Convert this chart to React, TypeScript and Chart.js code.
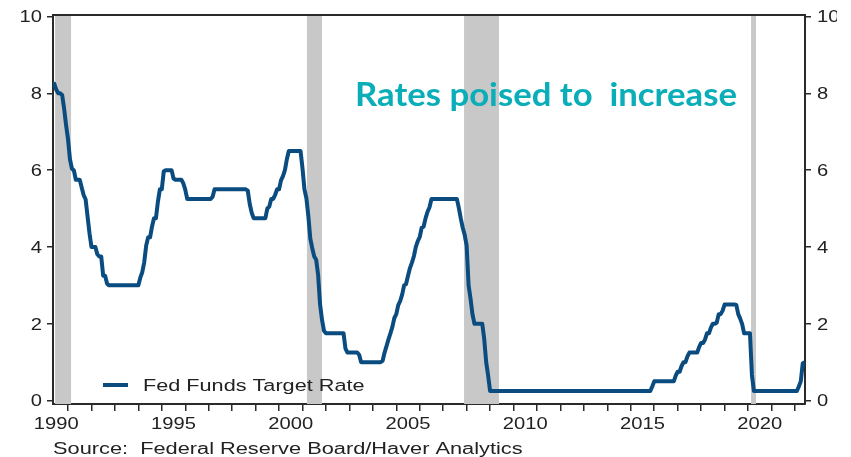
import { useEffect, useRef } from "react";
import { Chart, registerables } from "chart.js";

Chart.register(...registerables);

// Fed funds target rate: dates (decimal years) at which the target changed, and the new level
const changeDates = [
  1990.36, 1990.53, 1990.82, 1990.87, 1990.93, 1990.96,
  1991.02, 1991.09, 1991.18, 1991.33, 1991.6, 1991.7, 1991.83, 1991.85, 1991.93, 1991.97,
  1992.27, 1992.5, 1992.68,
  1994.1, 1994.22, 1994.3, 1994.37, 1994.62, 1994.87,
  1995.09, 1995.51, 1995.97,
  1996.08,
  1997.23,
  1998.74, 1998.79, 1998.88,
  1999.5, 1999.65, 1999.88,
  2000.09, 2000.22, 2000.37,
  2001.01, 2001.08, 2001.21, 2001.3, 2001.37, 2001.49, 2001.64, 2001.71, 2001.75, 2001.85, 2001.94,
  2002.85,
  2003.48,
  2004.49, 2004.61, 2004.72, 2004.86, 2004.95,
  2005.09, 2005.22, 2005.33, 2005.49, 2005.6, 2005.72, 2005.83, 2005.95,
  2006.08, 2006.24, 2006.36, 2006.49,
  2007.71, 2007.83, 2007.94,
  2008.06, 2008.08, 2008.21, 2008.33, 2008.77, 2008.83, 2008.96,
  2015.96,
  2016.95,
  2017.2, 2017.45, 2017.95,
  2018.22, 2018.45, 2018.74, 2018.97,
  2019.58, 2019.71, 2019.83,
  2020.17, 2020.2,
  2022.21, 2022.34, 2022.43,
];
const targetRates = [
  8.25, 8.0, 7.75, 7.5, 7.25, 7.0,
  6.75, 6.25, 6.0, 5.75, 5.5, 5.25, 5.0, 4.75, 4.5, 4.0,
  3.75, 3.25, 3.0,
  3.25, 3.5, 3.75, 4.25, 4.75, 5.5,
  6.0, 5.75, 5.5,
  5.25,
  5.5,
  5.25, 5.0, 4.75,
  5.0, 5.25, 5.5,
  5.75, 6.0, 6.5,
  6.0, 5.5, 5.0, 4.5, 4.0, 3.75, 3.5, 3.0, 2.5, 2.0, 1.75,
  1.25,
  1.0,
  1.25, 1.5, 1.75, 2.0, 2.25,
  2.5, 2.75, 3.0, 3.25, 3.5, 3.75, 4.0, 4.25,
  4.5, 4.75, 5.0, 5.25,
  4.75, 4.5, 4.25,
  3.5, 3.0, 2.25, 2.0, 1.5, 1.0, 0.25,
  0.5,
  0.75,
  1.0, 1.25, 1.5,
  1.75, 2.0, 2.25, 2.5,
  2.25, 2.0, 1.75,
  1.25, 0.25,
  0.5, 1.0, 1.0,
];

// NBER recessions (shaded)
const recessionStarts = [1990.45, 2001.19, 2007.89, 2020.13];
const recessionEnds = [1991.13, 2001.83, 2009.38, 2020.34];

// Axes
const xMin = 1990.36;
const xMax = 2022.43;
const yMin = -0.09;
const yMax = 10.04;
const yTickValues = [0, 2, 4, 6, 8, 10];
const xLabelYears = [1990, 1995, 2000, 2005, 2010, 2015, 2020];
const xTickYears = Array.from({ length: 32 }, (_, i) => 1991 + i);

const seriesLabel = "Fed Funds Target Rate";
const sourceText = "Source:  Federal Reserve Board/Haver Analytics";
const annotationText = "Rates poised to  increase";

const LINE_COLOR = "#0a4b80";
const AXIS_COLOR = "#2a2a2a";
const TEXT_COLOR = "#222222";
const SHADE_COLOR = "#c8c8c8";
const TEAL = "#0aaeb8";
const FONT_FAMILY = '"Liberation Sans", Arial, sans-serif';
const STRETCH = 1.26;

// rate in force at time t (step function of the change list)
function rateAt(t: number) {
  let r = targetRates[0];
  for (let i = 0; i < changeDates.length; i++) {
    if (changeDates[i] <= t) r = targetRates[i];
    else break;
  }
  return r;
}

// monthly averages of the target (the source series is monthly), plotted at month start
function monthlySeries() {
  const pts: { x: number; y: number }[] = [];
  for (let k = 0; ; k++) {
    const t0 = 1990 + k / 12;
    if (t0 > xMax) break;
    let sum = 0;
    const n = 30;
    for (let j = 0; j < n; j++) sum += rateAt(t0 + (j + 0.5) / (12 * n));
    pts.push({ x: t0, y: sum / n });
  }
  return pts;
}

function stretchText(
  ctx: CanvasRenderingContext2D,
  text: string,
  x: number,
  y: number,
  align: "left" | "right" | "center",
  font: string,
  color: string,
  sx: number
) {
  ctx.save();
  ctx.font = font;
  ctx.fillStyle = color;
  ctx.textBaseline = "alphabetic";
  ctx.textAlign = "left";
  const w = ctx.measureText(text).width * sx;
  let left = x;
  if (align === "right") left = x - w;
  else if (align === "center") left = x - w / 2;
  ctx.translate(left, y);
  ctx.scale(sx, 1);
  ctx.fillText(text, 0, 0);
  ctx.restore();
}

const decorPlugin = {
  id: "decor",
  beforeDatasetsDraw(chart: any) {
    const { ctx, chartArea, scales } = chart;
    const xs = scales.x;
    ctx.save();
    ctx.fillStyle = SHADE_COLOR;
    for (let i = 0; i < recessionStarts.length; i++) {
      const x0 = Math.max(xs.getPixelForValue(recessionStarts[i]), chartArea.left);
      const x1 = Math.min(xs.getPixelForValue(recessionEnds[i]), chartArea.right);
      ctx.fillRect(x0, chartArea.top, x1 - x0, chartArea.bottom - chartArea.top);
    }
    ctx.restore();
  },
  afterDraw(chart: any) {
    const { ctx, chartArea, scales } = chart;
    const xs = scales.x;
    const yl = scales.y;
    const yr = scales.y2;

    // top frame line
    ctx.save();
    ctx.strokeStyle = AXIS_COLOR;
    ctx.lineWidth = 2;
    ctx.beginPath();
    ctx.moveTo(chartArea.left - 1, chartArea.top);
    ctx.lineTo(chartArea.right + 1, chartArea.top);
    ctx.stroke();
    ctx.restore();

    const tickFont = `16px ${FONT_FAMILY}`;
    // left y labels
    for (const v of yTickValues) {
      const py = yl.getPixelForValue(v);
      stretchText(ctx, String(v), chartArea.left - 11, py + 5.8, "right", tickFont, TEXT_COLOR, STRETCH);
    }
    // right y labels (clipped like the reference picture)
    ctx.save();
    ctx.beginPath();
    ctx.rect(0, 0, 837, chart.height);
    ctx.clip();
    for (const v of yTickValues) {
      const py = yr.getPixelForValue(v);
      stretchText(ctx, String(v), chartArea.right + 12, py + 5.8, "left", tickFont, TEXT_COLOR, STRETCH);
    }
    ctx.restore();

    // x labels centred in the middle of each labelled year
    for (const yv of xLabelYears) {
      const px = xs.getPixelForValue(yv + 0.5);
      stretchText(ctx, String(yv), px, chartArea.bottom + 25, "center", tickFont, TEXT_COLOR, STRETCH);
    }

    // source note
    stretchText(ctx, sourceText, chartArea.left, chartArea.bottom + 50, "left", `17.3px ${FONT_FAMILY}`, TEXT_COLOR, STRETCH);

    // legend inside plot
    const ds = chart.data.datasets[0];
    ctx.save();
    ctx.strokeStyle = ds.borderColor;
    ctx.lineWidth = 4;
    ctx.beginPath();
    ctx.moveTo(103, 385);
    ctx.lineTo(128, 385);
    ctx.stroke();
    ctx.restore();
    stretchText(ctx, ds.label, 143, 390.5, "left", `17.2px ${FONT_FAMILY}`, TEXT_COLOR, STRETCH);

    // annotation
    ctx.save();
    const aFont = 'bold 32px Lato, "Open Sans", sans-serif';
    ctx.font = aFont;
    const aw = ctx.measureText(annotationText).width;
    ctx.restore();
    stretchText(ctx, annotationText, 355, 106, "left", aFont, TEAL, 382 / aw);
  },
};

export default function App() {
  const canvasRef = useRef<HTMLCanvasElement | null>(null);

  useEffect(() => {
    if (!canvasRef.current) return;
    const points = monthlySeries();
    const tickGrid = {
      drawOnChartArea: false,
      drawTicks: true,
      tickLength: 6,
      color: AXIS_COLOR,
      lineWidth: 1.5,
    };
    const chart = new Chart(canvasRef.current, {
      type: "line",
      data: {
        datasets: [
          {
            label: seriesLabel,
            data: points,
            borderColor: LINE_COLOR,
            backgroundColor: LINE_COLOR,
            borderWidth: 4,
            borderJoinStyle: "round",
            pointRadius: 0,
            fill: false,
          },
        ],
      },
      options: {
        responsive: false,
        animation: false,
        layout: { padding: { top: 15, left: 0, right: 0, bottom: 0 } },
        plugins: {
          legend: { display: false },
          tooltip: { enabled: false },
        },
        scales: {
          x: {
            type: "linear",
            position: "bottom",
            min: xMin,
            max: xMax,
            afterBuildTicks: (s: any) => {
              s.ticks = xTickYears.map((v) => ({ value: v }));
            },
            afterFit: (s: any) => {
              s.height = 53;
            },
            ticks: { display: false },
            grid: { ...tickGrid, tickLength: 7 },
            border: { display: true, color: AXIS_COLOR, width: 2 },
          },
          y: {
            type: "linear",
            position: "left",
            min: yMin,
            max: yMax,
            afterBuildTicks: (s: any) => {
              s.ticks = yTickValues.map((v) => ({ value: v }));
            },
            afterFit: (s: any) => {
              s.width = 53;
            },
            ticks: { display: false },
            grid: tickGrid,
            border: { display: true, color: AXIS_COLOR, width: 2 },
          },
          y2: {
            type: "linear",
            position: "right",
            min: yMin,
            max: yMax,
            afterBuildTicks: (s: any) => {
              s.ticks = yTickValues.map((v) => ({ value: v }));
            },
            afterFit: (s: any) => {
              s.width = 46;
            },
            ticks: { display: false },
            grid: tickGrid,
            border: { display: true, color: AXIS_COLOR, width: 2 },
          },
        },
      },
      plugins: [decorPlugin],
    });
    return () => chart.destroy();
  }, []);

  return (
    <div style={{ position: "absolute", left: 0, top: 0, width: 851, height: 457, background: "#fff" }}>
      <canvas ref={canvasRef} width={851} height={457} style={{ display: "block" }} />
    </div>
  );
}
